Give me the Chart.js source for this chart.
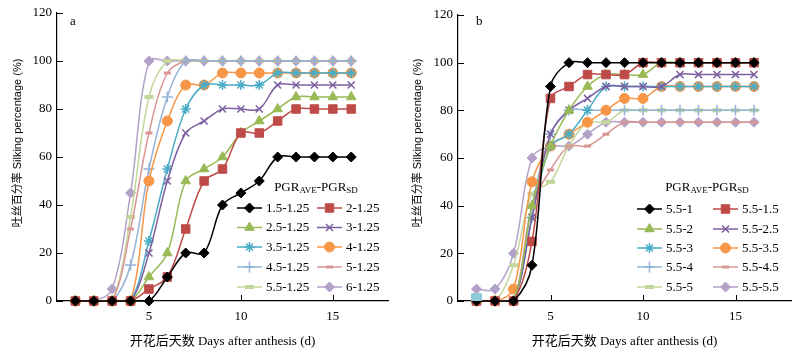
<!DOCTYPE html>
<html><head><meta charset="utf-8">
<script src="https://cdn.jsdelivr.net/npm/chart.js@4.4.0/dist/chart.umd.min.js"></script>
<style>
html,body{margin:0;padding:0;background:#fff;}
#wrap{position:relative;width:800px;height:355px;overflow:hidden;}
.cv{position:absolute;top:0;width:400px;height:355px;}
</style></head><body>
<div id="wrap">
<div class="cv" style="left:0"><canvas id="ca" width="400" height="355"></canvas></div>
<div class="cv" style="left:400px"><canvas id="cb" width="400" height="355"></canvas></div>
</div>
<script>
// ---------- data ----------
const days = [1,2,3,4,5,6,7,8,9,10,11,12,13,14,15,16];
const xTickValues = [5,10,15];
const yTickStep = 20;

const labelsA = ['1.5-1.25','2-1.25','2.5-1.25','3-1.25','3.5-1.25','4-1.25','4.5-1.25','5-1.25','5.5-1.25','6-1.25'];
const a_1_5 = [0,0,0,0,0,10,20,20,40,45,50,60,60,60,60,60];
const a_2   = [0,0,0,0,5,10,30,50,55,70,70,75,80,80,80,80];
const a_2_5 = [0,0,0,0,10,20,50,55,60,70,75,80,85,85,85,85];
const a_3   = [0,0,0,0,20,50,70,75,80,80,80,90,90,90,90,90];
const a_3_5 = [0,0,0,0,25,55,80,90,90,90,90,95,95,95,95,95];
const a_4   = [0,0,0,0,50,75,90,90,95,95,95,95,95,95,95,95];
const a_4_5 = [0,0,0,15,55,85,100,100,100,100,100,100,100,100,100,100];
const a_5   = [0,0,0,30,70,95,100,100,100,100,100,100,100,100,100,100];
const a_5_5 = [0,0,0,35,85,100,100,100,100,100,100,100,100,100,100,100];
const a_6   = [0,0,5,45,100,100,100,100,100,100,100,100,100,100,100,100];

const labelsB = ['5.5-1','5.5-1.5','5.5-2','5.5-2.5','5.5-3','5.5-3.5','5.5-4','5.5-4.5','5.5-5','5.5-5.5'];
const b_1   = [0,0,0,15,90,100,100,100,100,100,100,100,100,100,100,100];
const b_1_5 = [0,0,0,25,85,90,95,95,95,100,100,100,100,100,100,100];
const b_2   = [0,0,0,40,65,80,90,95,95,95,100,100,100,100,100,100];
const b_2_5 = [0,0,0,35,70,80,85,90,90,90,90,95,95,95,95,95];
const b_3   = [0,0,0,35,65,70,80,90,90,90,90,90,90,90,90,90];
const b_3_5 = [0,0,5,50,65,70,75,80,85,85,90,90,90,90,90,90];
const b_4   = [0,0,0,40,70,80,80,80,80,80,80,80,80,80,80,80];
const b_4_5 = [0,0,0,40,55,65,65,70,75,75,75,75,75,75,75,75];
const b_5   = [0,0,15,45,50,65,75,75,80,80,80,80,80,80,80,80];
const b_5_5 = [5,5,20,60,65,65,70,75,75,75,75,75,75,75,75,75];
const b_extra = [1,null,null,null,null,null,null,null,null,null,null,null,null,null,null,null];

// ---------- styles ----------
const SERIF = '"Liberation Serif","Times New Roman","Noto Sans CJK SC",serif';
const SANS = '"Liberation Sans",Arial,"Noto Sans CJK SC",sans-serif';
const styles = [
  {c:'#000000', ps:'rectRot', r:5},
  {c:'#BE4B48', ps:'rect', r:6},
  {c:'#98B954', ps:'triangle', r:5.5},
  {c:'#7D60A0', ps:'crossRot', r:5, bw:1.5},
  {c:'#4BACC6', ps:'star', r:5, bw:1.5},
  {c:'#F79646', ps:'circle', r:5},
  {c:'#95B3D7', ps:'cross', r:5.5, bw:1.5},
  {c:'#D99694', ps:'line', r:3.5, bw:3},
  {c:'#C3D69B', ps:'line', r:4.5, bw:4},
  {c:'#B3A2C7', ps:'rectRot', r:5},
];

function buildDatasets(labels, series) {
  return series.map((d, i) => {
    const s = styles[i];
    return {
      label: labels[i], data: d,
      borderColor: s.c, backgroundColor: s.c,
      pointBackgroundColor: s.c, pointBorderColor: s.c,
      pointStyle: s.ps, pointRadius: s.r, pointBorderWidth: s.bw || 1,
      borderWidth: 1.5, tension: 0.35, fill: false, clip: 6,
    };
  });
}

const deco = {
  id: 'deco',
  afterDraw(chart, args, o) {
    const ctx = chart.ctx, ca = chart.chartArea, xs = chart.scales.x, ys = chart.scales.y;
    ctx.save();
    // inward tick marks
    ctx.strokeStyle = '#000'; ctx.lineWidth = 1;
    ys.ticks.forEach(t => {
      const y = Math.round(ys.getPixelForValue(t.value)) + 0.5;
      ctx.beginPath(); ctx.moveTo(ca.left, y); ctx.lineTo(ca.left + 6, y); ctx.stroke();
    });
    xs.ticks.forEach(t => {
      const x = Math.round(xs.getPixelForValue(t.value)) + 0.5;
      ctx.beginPath(); ctx.moveTo(x, ca.bottom); ctx.lineTo(x, ca.bottom - 6); ctx.stroke();
    });
    ctx.fillStyle = '#000';
    // panel letter
    ctx.font = '13px ' + SERIF; ctx.textAlign = 'left'; ctx.textBaseline = 'middle';
    ctx.fillText(o.letter, o.letterX, o.letterY);
    // y title
    ctx.save();
    ctx.translate(18, o.yTitleY); ctx.rotate(-Math.PI / 2);
    ctx.font = '11px ' + SANS; ctx.textAlign = 'center'; ctx.textBaseline = 'middle';
    ctx.fillText('吐丝百分率 Silking percentage (%)', 0, 0);
    ctx.restore();
    // x title
    ctx.font = '13px ' + SERIF; ctx.textAlign = 'center'; ctx.textBaseline = 'middle';
    ctx.fillText('开花后天数 Days after anthesis (d)', (ca.left + ca.right) / 2, 342);
    // legend title with subscripts
    const parts = [['PGR',13,0],['AVE',9,3],['-PGR',13,0],['SD',9,3]];
    let tw = 0;
    parts.forEach(p => { ctx.font = p[1] + 'px ' + SERIF; tw += ctx.measureText(p[0]).width; });
    let tx = o.legTitleX - tw / 2;
    ctx.textAlign = 'left';
    parts.forEach(p => {
      ctx.font = p[1] + 'px ' + SERIF;
      ctx.fillText(p[0], tx, o.legTitleY + p[2]);
      tx += ctx.measureText(p[0]).width;
    });
    // legend entries
    chart.data.datasets.forEach((ds, i) => {
      if (i >= 10) return;
      const row = Math.floor(i / 2), col = i % 2;
      const x0 = o.legCols[col], y = o.legRows[row];
      ctx.strokeStyle = ds.borderColor; ctx.lineWidth = ds.borderWidth;
      ctx.beginPath(); ctx.moveTo(x0, y); ctx.lineTo(x0 + 25, y); ctx.stroke();
      ctx.fillStyle = ds.pointBackgroundColor; ctx.strokeStyle = ds.pointBorderColor; ctx.lineWidth = ds.pointBorderWidth;
      Chart.helpers.drawPoint(ctx, {pointStyle: ds.pointStyle, radius: ds.pointRadius, rotation: 0, borderWidth: ds.pointBorderWidth}, x0 + 12.5, y);
      ctx.fillStyle = '#000'; ctx.font = '13px ' + SERIF; ctx.textAlign = 'left'; ctx.textBaseline = 'middle';
      ctx.fillText(ds.label, x0 + 29, y + 0.5);
    });
    ctx.restore();
  }
};

function makeChart(id, datasets, p) {
  return new Chart(document.getElementById(id), {
    type: 'line',
    data: { labels: days, datasets },
    options: {
      responsive: false, animation: false,
      layout: { padding: { top: p.top, right: p.right, left: 0, bottom: 0 } },
      plugins: { legend: { display: false }, tooltip: { enabled: false }, deco: p.deco },
      scales: {
        x: {
          type: 'linear', min: 0, max: 18,
          afterBuildTicks: s => { s.ticks = xTickValues.map(v => ({ value: v })); },
          afterFit: s => { s.height = 54; },
          grid: { display: false, drawTicks: false },
          border: { display: true, color: '#000', width: 1.2 },
          ticks: { padding: 8, color: '#000', font: { family: SERIF, size: 13 }, maxRotation: 0, autoSkip: false },
        },
        y: {
          min: 0, max: 120,
          afterFit: s => { s.width = p.yw; },
          grid: { display: false, drawTicks: false },
          border: { display: true, color: '#000', width: 1.2 },
          ticks: { stepSize: yTickStep, padding: 5, color: '#000', font: { family: SERIF, size: 13 } },
        }
      }
    },
    plugins: [deco]
  });
}

const dsA = buildDatasets(labelsA, [a_1_5,a_2,a_2_5,a_3,a_3_5,a_4,a_4_5,a_5,a_5_5,a_6]);
const dsB = buildDatasets(labelsB, [b_1,b_1_5,b_2,b_2_5,b_3,b_3_5,b_4,b_4_5,b_5,b_5_5]);
dsB.push({ label: '', data: b_extra, borderColor: '#8FC9DB', backgroundColor: '#8FC9DB', order: -1,
  pointBackgroundColor: '#8FC9DB', pointBorderColor: '#8FC9DB', pointStyle: 'rect', pointRadius: 7, showLine: false });

makeChart('ca', dsA, { top: 13, right: 12, yw: 57,
  deco: { letter: 'a', letterX: 70, letterY: 22, yTitleY: 143, legTitleX: 316, legTitleY: 188,
          legCols: [237, 317], legRows: [208, 227.5, 247, 267, 287] } });
makeChart('cb', dsB, { top: 15, right: 9, yw: 58,
  deco: { letter: 'b', letterX: 76, letterY: 22, yTitleY: 143, legTitleX: 307, legTitleY: 188,
          legCols: [237, 313], legRows: [209, 229, 248, 267, 287] } });
</script>
</body></html>
